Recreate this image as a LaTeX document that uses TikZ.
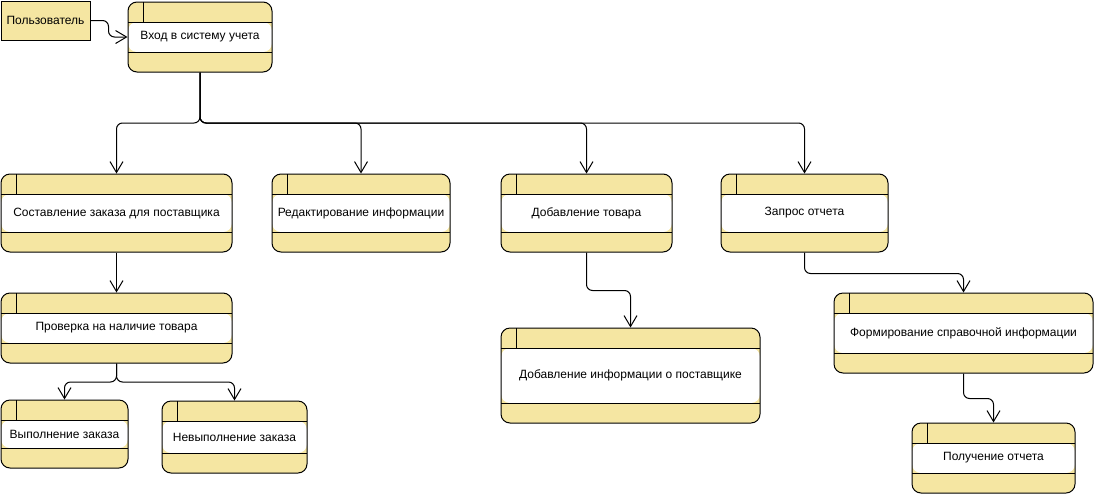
\documentclass[tikz,border=0pt]{standalone}
\usepackage{fontspec}
\setmainfont{Liberation Sans}
\usepackage{tikz}
\usetikzlibrary{arrows.meta}

\definecolor{procyellow}{HTML}{F5E6A2}

\tikzset{
  proc/.style={draw, rounded corners=9pt, fill=procyellow, line width=1pt, inner sep=0pt,
    font=\fontsize{12}{14}\selectfont,
    path picture={
      \fill[white] ([yshift=-20pt]path picture bounding box.north west) rectangle ([yshift=20pt]path picture bounding box.south east);
      \draw[line width=1pt] ([yshift=-20pt]path picture bounding box.north west) -- ([yshift=-20pt]path picture bounding box.north east);
      \draw[line width=1pt] ([yshift=20pt]path picture bounding box.south west) -- ([yshift=20pt]path picture bounding box.south east);
      \draw[line width=1pt] ([xshift=15pt]path picture bounding box.north west) -- ++(0,-20pt);
    }},
  actor/.style={draw, fill=procyellow, line width=1pt, inner sep=0pt, font=\fontsize{12}{14}\selectfont},
  flow/.style={draw, line width=1pt, rounded corners=6pt, -{Straight Barb[length=11pt,width=13pt,line width=1pt]}}
}

\begin{document}
\begin{tikzpicture}[x=1pt, y=-1pt]
\useasboundingbox (0,0) rectangle (1097,496);

% external entity
\node[actor, minimum width=89pt, minimum height=39pt] (user) at (45.5,20.5) {Пользователь};

% processes
\node[proc, minimum width=144pt, minimum height=70pt] (vhod) at (200,37) {Вход в систему учета};
\node[proc, minimum width=231pt, minimum height=78pt] (sost) at (116.5,213) {Составление заказа для поставщика};
\node[proc, minimum width=178pt, minimum height=78pt] (red) at (361,213) {Редактирование информации};
\node[proc, minimum width=171pt, minimum height=78pt] (dobt) at (586.5,213) {Добавление товара};
\node[proc, minimum width=167pt, minimum height=78pt] (zapr) at (804.5,213) {Запрос отчета};
\node[proc, minimum width=231pt, minimum height=70pt] (prov) at (116.5,328) {Проверка на наличие товара};
\node[proc, minimum width=127pt, minimum height=68pt] (vyp) at (64.5,434) {Выполнение заказа};
\node[proc, minimum width=145pt, minimum height=72pt] (nevyp) at (234.5,437) {Невыполнение заказа};
\node[proc, minimum width=259pt, minimum height=95pt] (dobi) at (630.5,375.5) {Добавление информации о поставщике};
\node[proc, minimum width=259pt, minimum height=80pt] (form) at (963.5,333) {Формирование справочной информации};
\node[proc, minimum width=163pt, minimum height=70pt] (polu) at (993.5,458) {Получение отчета};

% junctions
\coordinate (bus) at (200,123);
\coordinate (split) at (116.5,382);

% flows
\draw[flow] (user.east) -- ++(18,0) |- (vhod.west);
\draw[flow] (vhod.south) -- (vhod.south |- bus) -| (sost.north);
\draw[flow] (vhod.south) -- (vhod.south |- bus) -| (red.north);
\draw[flow] (vhod.south) -- (vhod.south |- bus) -| (dobt.north);
\draw[flow] (vhod.south) -- (vhod.south |- bus) -| (zapr.north);
\draw[flow] (sost.south) -- (prov.north);
\draw[flow] (prov.south) -- (split) -| (vyp.north);
\draw[flow] (prov.south) -- (split) -| (nevyp.north);
\draw[flow] (dobt.south) -- ++(0,38) -| (dobi.north);
\draw[flow] (zapr.south) -- ++(0,21) -| (form.north);
\draw[flow] (form.south) -- ++(0,25) -| (polu.north);
\end{tikzpicture}
\end{document}
